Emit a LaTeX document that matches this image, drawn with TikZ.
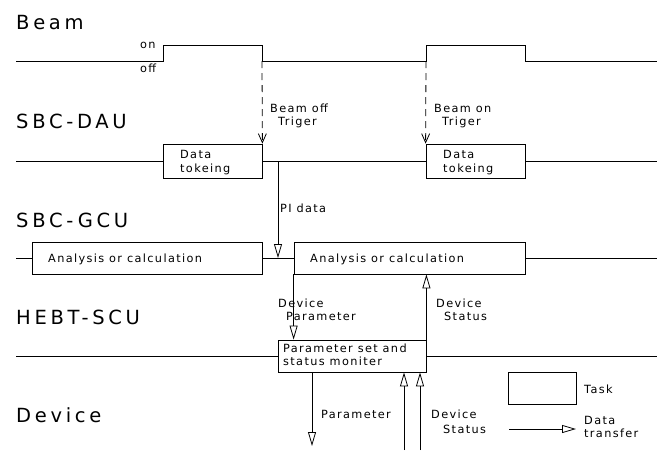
\documentclass[tikz,border=0pt]{standalone}
\usepackage{fontspec}
\usetikzlibrary{arrows.meta}
\newfontfamily\bigfont[LetterSpace=19]{DejaVu Sans}
\newfontfamily\smallfont[LetterSpace=12]{DejaVu Sans}
\begin{document}
\begin{tikzpicture}[x=1pt,y=-1pt,
  ln/.style={line width=0.8pt},
  box/.style={draw,line width=0.8pt,rectangle,inner sep=0pt},
  big/.style={anchor=base west,inner sep=0pt,font=\bigfont\fontsize{19.5}{19.5}\selectfont},
  sm/.style={anchor=base west,inner sep=0pt,font=\smallfont\fontsize{11.3}{12}\selectfont},
  trig/.style={ln,dash pattern=on 7pt off 5pt,-{Straight Barb[length=9pt,width=8pt]}},
  xfer/.style={ln,-{Triangle[open,length=14pt,width=8pt]}}]
\useasboundingbox (0,0) rectangle (663,450);
% row labels
\node[big] (lbeam) at (16,29) {Beam};
\node[big] (ldau) at (16,128) {SBC-DAU};
\node[big] (lgcu) at (16,227) {SBC-GCU};
\node[big] (lscu) at (16,324) {HEBT-SCU};
\node[big] (ldev) at (16,422) {Device};
% boxes
\node[box,minimum width=99pt,minimum height=34pt] (dt1) at (212.5,161) {};
\node[box,minimum width=99pt,minimum height=34pt] (dt2) at (475.5,161) {};
\node[box,minimum width=230pt,minimum height=32pt] (ac1) at (147,258) {};
\node[box,minimum width=231pt,minimum height=32pt] (ac2) at (409.5,258) {};
\node[box,minimum width=148pt,minimum height=32pt] (ps) at (352,356) {};
\node[box,minimum width=68pt,minimum height=32pt] (lg) at (542,388) {};
% box texts
\node[sm] (t1a) at (180,158) {Data};
\node[sm] (t1b) at (180,172) {tokeing};
\node[sm] (t2a) at (443,158) {Data};
\node[sm] (t2b) at (443,172) {tokeing};
\node[sm] (t3) at (48,262) {Analysis or calculation};
\node[sm] (t4) at (310,262) {Analysis or calculation};
\node[sm] (t5a) at (283,352) {Parameter set and};
\node[sm] (t5b) at (283,365) {status moniter};
% beam waveform
\coordinate (b0) at (16,61);
\coordinate (boff) at (262,61);
\coordinate (bon) at (426,61);
\coordinate (bend) at (657,61);
\draw[ln] (b0) -- (163,61) -- (163,45) -- (262,45) -- (boff) -- (bon) -- (426,45) -- (525,45) -- (525,61) -- (bend);
\node[sm] (on) at (140,48) {on};
\node[sm] (off) at (140,72) {off};
% DAU line
\coordinate (d0) at (16,161);
\coordinate (d1) at (657,161);
\draw[ln] (d0) -- (dt1.west);
\draw[ln] (dt1.east) -- (dt2.west);
\draw[ln] (dt2.east) -- (d1);
% GCU line
\coordinate (g0) at (16,258);
\coordinate (g1) at (657,258);
\draw[ln] (g0) -- (ac1.west);
\draw[ln] (ac1.east) -- (ac2.west);
\draw[ln] (ac2.east) -- (g1);
% SCU line
\coordinate (s0) at (16,356);
\coordinate (s1) at (657,356);
\draw[ln] (s0) -- (ps.west);
\draw[ln] (ps.east) -- (s1);
% triggers
\draw[trig] (boff) -- (dt1.north east);
\draw[trig] (bon) -- (dt2.north west);
\node[sm] (bofft) at (270,112) {Beam off};
\node[sm] (bofft2) at (278,125) {Triger};
\node[sm] (bont) at (434,112) {Beam on};
\node[sm] (bont2) at (442,125) {Triger};
% PI data
\coordinate (pi0) at (278,161);
\coordinate (pi1) at (278,258);
\draw[xfer] (pi0) -- (pi1);
\node[sm] (pit) at (280,212) {PI data};
% device parameter / status between GCU and SCU
\draw[xfer] (ac2.south west) -- (ac2.south west |- ps.north);
\draw[xfer] (ps.north east) -- (ps.north east |- ac2.south);
\node[sm] (dp1) at (278,307) {Device};
\node[sm] (dp2) at (286,320) {Parameter};
\node[sm] (ds1) at (436,307) {Device};
\node[sm] (ds2) at (444,320) {Status};
% device level
\coordinate (p0) at (312,372);
\coordinate (p1) at (312,446);
\draw[xfer] (p0) -- (p1);
\coordinate (u1) at (404,450);
\coordinate (u2) at (420,450);
\draw[xfer] (u1) -- (u1 |- ps.south);
\draw[xfer] (u2) -- (u2 |- ps.south);
\node[sm] (pt) at (321,418) {Parameter};
\node[sm] (dst1) at (431,418) {Device};
\node[sm] (dst2) at (443,433) {Status};
% legend
\node[sm] (task) at (584,393) {Task};
\coordinate (la0) at (509,429);
\coordinate (la1) at (576,429);
\draw[xfer] (la0) -- (la1);
\node[sm] (dtr1) at (584,424) {Data};
\node[sm] (dtr2) at (584,437) {transfer};
\end{tikzpicture}
\end{document}
